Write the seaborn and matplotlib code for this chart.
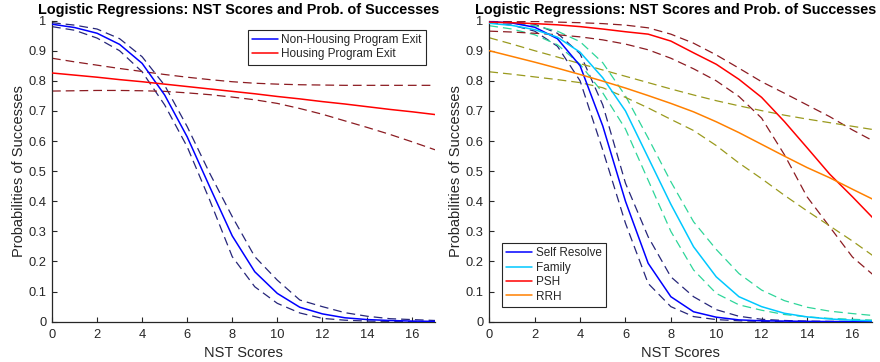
import matplotlib
matplotlib.use("Agg")
import matplotlib.pyplot as plt
import seaborn as sns
import pandas as pd

# ---------------- data ----------------
nst = list(range(18))

# left panel
nonhousing    = [0.988, 0.977, 0.958, 0.921, 0.858, 0.753, 0.614, 0.448, 0.285, 0.166, 0.094, 0.048, 0.026, 0.013, 0.007, 0.004, 0.002, 0.001]
nonhousing_hi = [0.993, 0.985, 0.972, 0.940, 0.880, 0.785, 0.648, 0.493, 0.349, 0.216, 0.138, 0.072, 0.050, 0.030, 0.018, 0.010, 0.007, 0.004]
nonhousing_lo = [0.980, 0.968, 0.942, 0.900, 0.830, 0.720, 0.581, 0.404, 0.216, 0.116, 0.061, 0.029, 0.011, 0.005, 0.002, 0.001, 0.0005, 0.0002]
housing    = [0.826, 0.819, 0.812, 0.804, 0.797, 0.789, 0.781, 0.773, 0.765, 0.757, 0.748, 0.740, 0.731, 0.723, 0.714, 0.705, 0.697, 0.688]
housing_hi = [0.875, 0.863, 0.852, 0.841, 0.831, 0.821, 0.812, 0.804, 0.797, 0.792, 0.789, 0.787, 0.786, 0.785, 0.785, 0.785, 0.785, 0.785]
housing_lo = [0.766, 0.767, 0.768, 0.768, 0.767, 0.765, 0.760, 0.754, 0.746, 0.737, 0.725, 0.708, 0.689, 0.667, 0.645, 0.622, 0.597, 0.571]

# right panel
self_resolve    = [0.997, 0.992, 0.978, 0.940, 0.850, 0.650, 0.400, 0.194, 0.083, 0.033, 0.015, 0.006, 0.003, 0.002, 0.001, 0.0005, 0.0003, 0.0002]
self_resolve_hi = [0.999, 0.996, 0.988, 0.958, 0.890, 0.720, 0.460, 0.282, 0.149, 0.083, 0.040, 0.018, 0.008, 0.004, 0.002, 0.001, 0.0007, 0.0005]
self_resolve_lo = [0.993, 0.985, 0.965, 0.915, 0.800, 0.570, 0.327, 0.127, 0.050, 0.017, 0.007, 0.003, 0.001, 0.0005, 0.0003, 0.0002, 0.0001, 0.0001]
family    = [0.991, 0.984, 0.970, 0.945, 0.895, 0.810, 0.700, 0.545, 0.390, 0.249, 0.149, 0.083, 0.050, 0.028, 0.016, 0.009, 0.005, 0.003]
family_hi = [0.996, 0.992, 0.983, 0.965, 0.930, 0.860, 0.750, 0.610, 0.465, 0.332, 0.240, 0.160, 0.105, 0.070, 0.048, 0.035, 0.027, 0.020]
family_lo = [0.983, 0.972, 0.953, 0.920, 0.855, 0.760, 0.640, 0.470, 0.300, 0.172, 0.094, 0.056, 0.038, 0.024, 0.016, 0.011, 0.008, 0.005]
psh    = [0.995, 0.993, 0.990, 0.986, 0.980, 0.972, 0.963, 0.955, 0.932, 0.893, 0.855, 0.805, 0.745, 0.665, 0.578, 0.490, 0.415, 0.337]
psh_hi = [0.999, 0.998, 0.997, 0.995, 0.993, 0.990, 0.985, 0.976, 0.955, 0.925, 0.886, 0.842, 0.797, 0.759, 0.720, 0.681, 0.637, 0.597]
psh_lo = [0.965, 0.962, 0.958, 0.953, 0.946, 0.936, 0.922, 0.903, 0.875, 0.840, 0.800, 0.748, 0.676, 0.555, 0.415, 0.315, 0.215, 0.150]
rrh    = [0.900, 0.881, 0.862, 0.842, 0.821, 0.799, 0.776, 0.751, 0.725, 0.697, 0.664, 0.628, 0.589, 0.550, 0.512, 0.478, 0.440, 0.403]
rrh_hi = [0.943, 0.922, 0.900, 0.879, 0.857, 0.836, 0.815, 0.794, 0.773, 0.753, 0.734, 0.717, 0.701, 0.686, 0.673, 0.661, 0.649, 0.637]
rrh_lo = [0.830, 0.822, 0.813, 0.804, 0.794, 0.777, 0.745, 0.710, 0.672, 0.635, 0.585, 0.527, 0.475, 0.420, 0.368, 0.318, 0.268, 0.214]

title_text = "Logistic Regressions: NST Scores and Prob. of Successes"
xlabel_text = "NST Scores"
ylabel_text = "Probabilities of Successes"
xticks = [0, 2, 4, 6, 8, 10, 12, 14, 16]
yticks = [0, 0.1, 0.2, 0.3, 0.4, 0.5, 0.6, 0.7, 0.8, 0.9, 1]
ytick_labels = ["0", "0.1", "0.2", "0.3", "0.4", "0.5", "0.6", "0.7", "0.8", "0.9", "1"]

# ---------------- style ----------------
sns.set_style("white", {"xtick.direction": "in", "ytick.direction": "in",
                        "xtick.bottom": True, "ytick.left": True})
plt.rcParams["font.family"] = ["Liberation Sans", "DejaVu Sans"]

fig = plt.figure(figsize=(8.8, 3.62), dpi=100)
axL = fig.add_axes([52 / 880, 1 - 321.7 / 362, 383 / 880, 301.1 / 362])
axR = fig.add_axes([489.3 / 880, 1 - 321.7 / 362, 382.4 / 880, 301.1 / 362])

SOLID_LW = 1.1
DASH_LW = 0.9
DASHES = (7.0, 4.0)


def solid(ax, y, color, label):
    sns.lineplot(x=nst, y=y, color=color, lw=SOLID_LW, ax=ax, label=label, zorder=3)


def dashed(ax, y, color):
    sns.lineplot(x=nst, y=y, color=color, lw=DASH_LW, ax=ax, legend=False, zorder=2,
                 dashes=False).lines[-1].set_dashes(DASHES)


navy = "#26267a"
darkred = "#8c1c22"
green = "#2ed69a"
olive = "#9a9a1e"

# left panel
dashed(axL, nonhousing_hi, navy)
dashed(axL, nonhousing_lo, navy)
dashed(axL, housing_hi, darkred)
dashed(axL, housing_lo, darkred)
solid(axL, nonhousing, "#0000ff", "Non-Housing Program Exit")
solid(axL, housing, "#ff0000", "Housing Program Exit")

# right panel
dashed(axR, self_resolve_hi, navy)
dashed(axR, self_resolve_lo, navy)
dashed(axR, family_hi, green)
dashed(axR, family_lo, green)
dashed(axR, psh_hi, darkred)
dashed(axR, psh_lo, darkred)
dashed(axR, rrh_hi, olive)
dashed(axR, rrh_lo, olive)
solid(axR, self_resolve, "#0000ff", "Self Resolve")
solid(axR, family, "#00c8ff", "Family")
solid(axR, psh, "#ff0000", "PSH")
solid(axR, rrh, "#ff8000", "RRH")

for ax, xmax in ((axL, 17), (axR, 16.85)):
    ax.set_xlim(0, xmax)
    ax.set_ylim(0, 1)
    ax.set_xticks(xticks)
    ax.set_xticklabels([str(t) for t in xticks])
    ax.set_yticks(yticks)
    ax.set_yticklabels(ytick_labels)
    ax.tick_params(axis="both", direction="in", length=3.5, width=0.8,
                   colors="#262626", labelsize=9.3)
    ax.tick_params(axis="x", pad=5)
    ax.tick_params(axis="y", pad=4)
    for s in ("top", "right"):
        ax.spines[s].set_visible(False)
    for s in ("left", "bottom"):
        ax.spines[s].set_color("#262626")
        ax.spines[s].set_linewidth(0.9)
    ax.set_xlabel(xlabel_text, fontsize=10.5, color="#262626", labelpad=4)
    ax.set_ylabel(ylabel_text, fontsize=10.5, color="#262626", labelpad=2)
    ax.set_title(title_text, fontsize=10.4, fontweight="bold", color="black",
                 pad=5, x=0.486)

legL = axL.legend(loc="upper right", bbox_to_anchor=(0.976, 0.969), fontsize=8.5,
                  frameon=True, fancybox=False, framealpha=1, edgecolor="#262626",
                  handlelength=2.2, handletextpad=0.3, borderpad=0.35, labelspacing=0.2,
                  borderaxespad=0)
legR = axR.legend(loc="lower left", bbox_to_anchor=(0.033, 0.05), fontsize=8.5,
                  frameon=True, fancybox=False, framealpha=1, edgecolor="#262626",
                  handlelength=2.2, handletextpad=0.3, borderpad=0.35, labelspacing=0.2,
                  borderaxespad=0)
for leg in (legL, legR):
    leg.get_frame().set_linewidth(0.8)

fig.savefig("out.png", dpi=100)
